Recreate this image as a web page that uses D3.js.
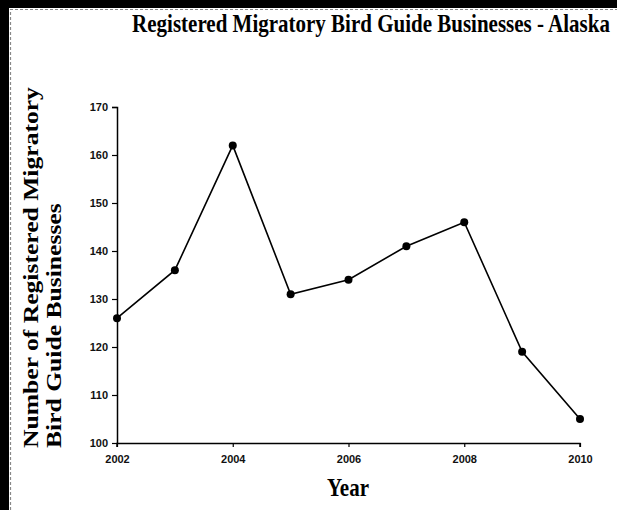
<!DOCTYPE html>
<html>
<head>
<meta charset="utf-8">
<script src="https://cdn.jsdelivr.net/npm/d3@7"></script>
<style>
  body { margin: 0; background: #fff; }
  svg { display: block; }
</style>
</head>
<body>
<svg id="chart" width="617" height="510"></svg>
<script>
const years = [2002, 2003, 2004, 2005, 2006, 2007, 2008, 2009, 2010];
const businesses = [126, 136, 162, 131, 134, 141, 146, 119, 105];
const xTicks = [2002, 2004, 2006, 2008, 2010];
const yTicks = [100, 110, 120, 130, 140, 150, 160, 170];

const svg = d3.select('#chart');
const width = 617, height = 510;
const margin = { top: 107, right: 37, bottom: 67, left: 117 };
const innerWidth = width - margin.left - margin.right;
const innerHeight = height - margin.top - margin.bottom;
const serif = 'Liberation Serif, Times New Roman, serif';

// scanned page edges
svg.append('rect').attr('x', 0).attr('y', 0).attr('width', width).attr('height', height).attr('fill', '#fff');
svg.append('rect').attr('x', 0).attr('y', 0).attr('width', 9).attr('height', height).attr('fill', '#000');
svg.append('rect').attr('x', 0).attr('y', 0).attr('width', width).attr('height', 8).attr('fill', '#000');
svg.append('path')
  .attr('d', `M10.5,${height} V9.5 H${width}`)
  .attr('fill', 'none').attr('stroke', '#888').attr('stroke-width', 1.2)
  .attr('stroke-dasharray', '3,2');

const xScale = d3.scaleLinear().domain([2002, 2010]).range([0, innerWidth]);
const yScale = d3.scaleLinear().domain([100, 170]).range([innerHeight, 0]);

const g = svg.append('g')
  .attr('transform', `translate(${margin.left},${margin.top})`);

const yAxis = g.append('g')
  .call(d3.axisLeft(yScale).tickValues(yTicks).tickSize(5).tickPadding(4).tickFormat(d3.format('d')));
const xAxis = g.append('g')
  .attr('transform', `translate(0,${innerHeight})`)
  .call(d3.axisBottom(xScale).tickValues(xTicks).tickSize(4).tickPadding(8).tickFormat(d3.format('d')));

[xAxis, yAxis].forEach(a => {
  a.select('.domain').attr('stroke', '#000').attr('stroke-width', 1.5);
  a.selectAll('.tick line').attr('stroke', '#000').attr('stroke-width', 1.2);
  a.selectAll('.tick text')
    .attr('fill', '#111')
    .style('font-family', 'Liberation Sans, Arial, sans-serif')
    .style('font-weight', 'bold')
    .style('font-size', '11px');
});
yAxis.select('.domain').attr('d', `M-5,0.5H0.5V${innerHeight}`);
xAxis.select('.domain').attr('d', `M0,4V0.5H${innerWidth}V4`);

const line = d3.line()
  .x((d, i) => xScale(years[i]))
  .y(d => yScale(d));

g.append('path')
  .datum(businesses)
  .attr('fill', 'none')
  .attr('stroke', '#000')
  .attr('stroke-width', 1.6)
  .attr('d', line);

g.selectAll('circle')
  .data(businesses)
  .enter()
  .append('circle')
  .attr('cx', (d, i) => xScale(years[i]))
  .attr('cy', d => yScale(d))
  .attr('r', 4)
  .attr('fill', '#000');

// title (scan is stretched vertically)
svg.append('text')
  .attr('transform', 'translate(371,32) scale(1,1.2)')
  .attr('text-anchor', 'middle')
  .style('font-family', serif)
  .style('font-weight', 'bold')
  .style('font-size', '21px')
  .text('Registered Migratory Bird Guide Businesses - Alaska');

// y label
const yl = svg.append('text')
  .attr('transform', 'translate(0,448) rotate(-90) scale(1.22,1)')
  .style('font-family', serif)
  .style('font-weight', 'bold')
  .style('font-size', '21px');
yl.append('tspan').attr('x', 0).attr('y', 38).text('Number of Registered Migratory');
yl.append('tspan').attr('x', 0).attr('y', 61).text('Bird Guide Businesses');

// x label
svg.append('text')
  .attr('transform', 'translate(348,496) scale(1,1.2)')
  .attr('text-anchor', 'middle')
  .style('font-family', serif)
  .style('font-weight', 'bold')
  .style('font-size', '21px')
  .text('Year');
</script>
</body>
</html>
